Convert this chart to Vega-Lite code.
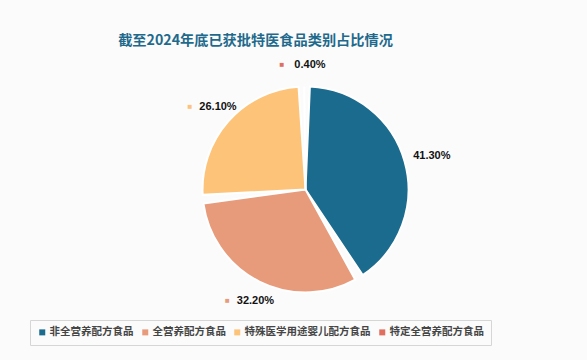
{
  "$schema": "https://vega.github.io/schema/vega-lite/v6.json",
  "autosize": {"type": "fit", "contains": "padding"},
  "width": 587,
  "height": 360,
  "padding": {"left": 30, "right": 6, "top": 40, "bottom": 14},
  "background": "#fbfbfb",
  "title": {
    "text": "截至2024年底已获批特医食品类别占比情况",
    "font": "Noto Sans CJK SC",
    "fontSize": 14.2,
    "fontWeight": "bold",
    "color": "#1f6a8c",
    "anchor": "middle",
    "dx": -50,
    "dy": -6,
    "offset": 4
  },
  "config": {"view": {"stroke": null}},
  "data": {
    "values": [
      {"category": "非全营养配方食品", "value": 41.3, "label": "41.30%", "ord": 1},
      {"category": "全营养配方食品", "value": 32.2, "label": "32.20%", "ord": 2},
      {"category": "特殊医学用途婴儿配方食品", "value": 26.1, "label": "26.10%", "ord": 3},
      {"category": "特定全营养配方食品", "value": 0.4, "label": "0.40%", "ord": 4}
    ]
  },
  "encoding": {
    "theta": {"field": "value", "type": "quantitative", "stack": true},
    "order": {"field": "ord", "type": "quantitative"},
    "color": {
      "field": "category",
      "type": "nominal",
      "sort": ["非全营养配方食品", "全营养配方食品", "特殊医学用途婴儿配方食品", "特定全营养配方食品"],
      "scale": {
        "domain": ["非全营养配方食品", "全营养配方食品", "特殊医学用途婴儿配方食品", "特定全营养配方食品"],
        "range": ["#1b6b8e", "#e89b7b", "#fdc378", "#e06f60"]
      },
      "legend": {
        "title": null,
        "orient": "bottom",
        "direction": "horizontal",
        "symbolType": "square",
        "symbolSize": 36,
        "symbolStrokeWidth": 0,
        "labelFont": "Noto Sans CJK SC",
        "labelFontSize": 10.5,
        "labelFontWeight": "bold",
        "labelColor": "#454545",
        "columnPadding": 6,
        "symbolOffset": 0,
        "labelOffset": 2,
        "strokeColor": "#d6d6d6",
        "padding": 7,
        "offset": 6
      }
    }
  },
  "layer": [
    {
      "mark": {"type": "arc", "outerRadius": 103, "padAngle": 0.085, "stroke": "#ffffff", "strokeWidth": 2}
    },
    {
      "mark": {"type": "text", "radius": 125, "font": "Liberation Sans", "fontSize": 11, "fontWeight": "bold", "dx": 6},
      "encoding": {"text": {"field": "label"}, "color": {"value": "#111111"}}
    },
    {
      "mark": {"type": "text", "radius": 125, "fontSize": 8, "dx": -22, "dy": 0},
      "encoding": {
        "text": {"value": "■"},
        "opacity": {"condition": {"test": "datum.ord == 1", "value": 0}, "value": 1}
      }
    }
  ]
}
